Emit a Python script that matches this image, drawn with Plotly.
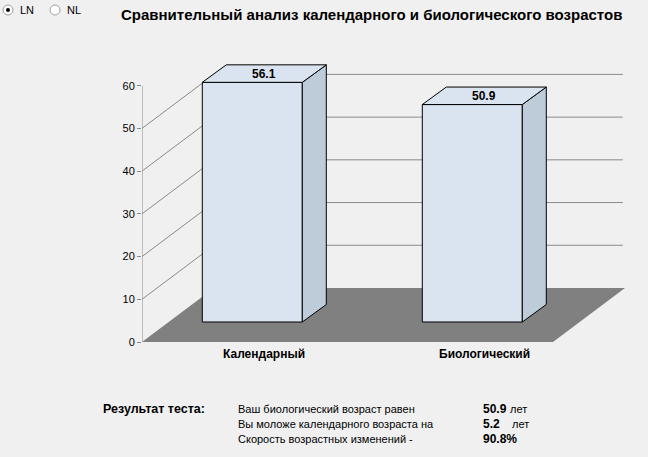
import plotly.graph_objects as go

# data
categories = ['Календарный', 'Биологический']
ages = [56.1, 50.9]
y_ticks = [0, 10, 20, 30, 40, 50, 60]
result_lines = ['Ваш биологический возраст равен',
                'Вы моложе календарного возраста на',
                'Скорость возрастных изменений -']
result_values = ['50.9', '5.2', '90.8%']
result_units = ['лет', 'лет', '']

title = 'Сравнительный анализ календарного и биологического возрастов'

# plot box in pixels
W, H = 648, 457
L, R, T, B = 142, 23, 40, 115
PW, PH = W - L - R, H - T - B
PX_Y = 4.272          # pixels per year on the front axis
PX_X = 220.0          # pixels between the two bars
X0 = -110.3 / PX_X
X1 = X0 + PW / PX_X
Y1 = PH / PX_Y

# pseudo 3d depths
FLOOR_DX, FLOOR_DY = 72 / PX_X, 54 / PX_Y
FLOOR_RIGHT = X0 + 411 / PX_X
BAR_W = 100 / PX_X
BAR_BASE = 20 / PX_Y
SIDE_DX, SIDE_DY = 24 / PX_X, 17.5 / PX_Y

FRONT = '#DAE4F0'
SIDE = '#BECBD9'
GRID = '#8A8A8A'
BG = '#F0F0F0'
FONT = 'Arial, Liberation Sans, sans-serif'


def pxx(x):
    return (x - L) / PW


def pxy(y):
    return (H - B - y) / PH


xs = list(range(len(categories)))

fig = go.Figure()
fig.add_trace(go.Bar(x=xs, y=ages, base=[BAR_BASE] * len(ages), width=BAR_W,
                     marker=dict(color=FRONT, line=dict(color='black', width=1)),
                     hoverinfo='skip', showlegend=False))

for i, v in zip(xs, ages):
    xl, xr = i - BAR_W / 2, i + BAR_W / 2
    bot, top = BAR_BASE, BAR_BASE + v
    fig.add_trace(go.Scatter(x=[xr, xr + SIDE_DX, xr + SIDE_DX, xr, xr],
                             y=[bot, bot + SIDE_DY, top + SIDE_DY, top, bot],
                             fill='toself', fillcolor=SIDE, mode='lines',
                             line=dict(color='black', width=1),
                             hoverinfo='skip', showlegend=False))
    fig.add_trace(go.Scatter(x=[xl, xr, xr + SIDE_DX, xl + SIDE_DX, xl],
                             y=[top, top, top + SIDE_DY, top + SIDE_DY, top],
                             fill='toself', fillcolor=FRONT, mode='lines',
                             line=dict(color='black', width=1),
                             hoverinfo='skip', showlegend=False))

shapes = []
# floor
shapes.append(dict(type='path', xref='x', yref='y', layer='below',
                   path=f'M {X0},0 L {FLOOR_RIGHT},0 L {X1},{FLOOR_DY} '
                        f'L {X0 + FLOOR_DX},{FLOOR_DY} Z',
                   fillcolor='#808080', line=dict(width=0)))
# side wall obliques and back wall lines
for v in y_ticks[1:-1]:
    shapes.append(dict(type='line', xref='x', yref='y', layer='below',
                       x0=X0, y0=v, x1=X0 + FLOOR_DX, y1=v + FLOOR_DY,
                       line=dict(color=GRID, width=1)))
    shapes.append(dict(type='line', xref='x', yref='y', layer='below',
                       x0=X0 + FLOOR_DX, y0=v + FLOOR_DY, x1=X1 - 0.01, y1=v + FLOOR_DY,
                       line=dict(color=GRID, width=1)))
# front axis line
shapes.append(dict(type='line', xref='x', yref='y', x0=X0, y0=0, x1=X0, y1=y_ticks[-1],
                   line=dict(color=GRID, width=1)))

# radio buttons
for cx, on in [(8, True), (55, False)]:
    shapes.append(dict(type='circle', xref='paper', yref='paper',
                       x0=pxx(cx - 5), x1=pxx(cx + 5), y0=pxy(15), y1=pxy(5),
                       fillcolor='white', line=dict(color='#A0A0A0', width=1)))
    if on:
        shapes.append(dict(type='circle', xref='paper', yref='paper',
                           x0=pxx(cx - 2), x1=pxx(cx + 2), y0=pxy(12), y1=pxy(8),
                           fillcolor='black', line=dict(width=0)))

ann = []
for i, v in zip(xs, ages):
    ann.append(dict(x=i + SIDE_DX / 2, y=BAR_BASE + v + SIDE_DY / 2, text=f'<b>{v}</b>',
                    showarrow=False, font=dict(size=12, color='black', family=FONT)))
    ann.append(dict(x=i + SIDE_DX / 2, y=0, yanchor='top', yshift=-3, text=f'<b>{categories[i]}</b>',
                    showarrow=False, font=dict(size=12, color='black', family=FONT)))


def text_at(x, y, s, size=11, bold=False):
    ann.append(dict(xref='paper', yref='paper', x=pxx(x), y=pxy(y), xanchor='left',
                    yanchor='middle', text=f'<b>{s}</b>' if bold else s, showarrow=False,
                    font=dict(size=size, color='black', family=FONT)))


text_at(119, 15, title, size=15, bold=True)
text_at(18, 10, 'LN')
text_at(65, 10, 'NL')
text_at(101, 409, 'Результат теста:', size=12.5, bold=True)
for k, line in enumerate(result_lines):
    y = 409 + k * 15
    text_at(236, y, line)
    text_at(481, y, result_values[k], size=12, bold=True)
    if result_units[k]:
        text_at(508 + 2 * k, y, result_units[k])

fig.update_layout(
    width=W, height=H,
    margin=dict(l=L, r=R, t=T, b=B, pad=0),
    paper_bgcolor=BG, plot_bgcolor=BG,
    showlegend=False,
    xaxis=dict(range=[X0, X1], showgrid=False, zeroline=False, showline=False,
               showticklabels=False, ticks='', fixedrange=True),
    yaxis=dict(range=[0, Y1], tickvals=y_ticks, ticks='outside', ticklen=4,
               tickcolor=GRID, showgrid=False, zeroline=False, showline=False,
               tickfont=dict(size=11, color='black', family=FONT), fixedrange=True),
    shapes=shapes, annotations=ann,
)

# page has a default body margin; drop it so the figure sits at the window corner
fig.write_html('out.html', config={'displayModeBar': False},
               post_script="document.body.style.margin='0';"
                           "document.body.style.background='#F0F0F0';")
